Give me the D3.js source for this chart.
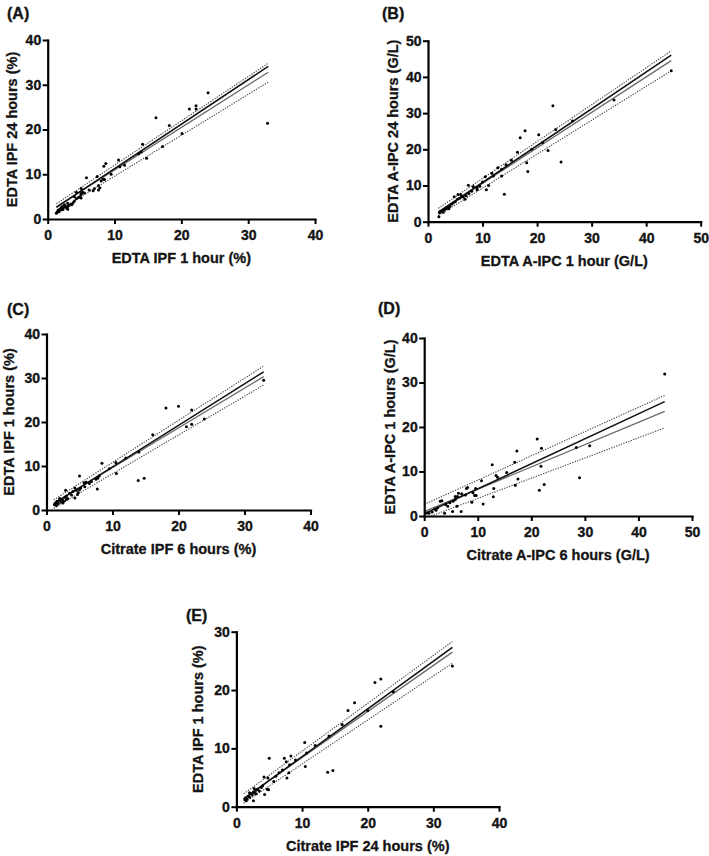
<!DOCTYPE html>
<html>
<head>
<meta charset="utf-8">
<script src="https://cdn.jsdelivr.net/npm/d3@7"></script>
<style>
  html, body { margin: 0; padding: 0; background: #fff; }
  svg { display: block; font-family: "Liberation Sans", Arial, Helvetica, sans-serif; }
</style>
</head>
<body>
<svg id="chart" width="709" height="856"></svg>
<script>
// ---------------- DATA ----------------
// Panel A: EDTA IPF 1 hour (x) vs EDTA IPF 24 hours (y)
const aPoints = [[32.9,21.4],[24.0,28.2],[21.2,24.6],[22.2,25.3],[22.2,24.6],[16.2,22.6],[18.2,20.9],[20.1,19.1],[14.2,16.7],[17.2,16.2],[14.8,13.6],[14.0,15.0],[13.6,14.6],[10.6,13.2],[8.7,12.4],[8.4,11.8],[5.8,9.2],[7.4,9.5],[7.6,7.5],[7.6,6.5],[6.8,6.3],[5.0,6.8],[5.0,5.7],[4.3,6.0],[10.8,11.7],[8.3,8.9],[9.5,10.0],[11.5,12.0],[1.4,1.5],[1.5,1.8],[1.6,2.0],[1.8,2.2],[2.0,2.0],[2.0,2.5],[2.2,2.3],[2.2,2.8],[2.4,2.7],[2.5,3.2],[2.6,3.0],[2.7,2.6],[2.8,2.5],[3.0,2.2],[3.0,2.8],[3.0,3.5],[3.2,3.0],[3.5,3.3],[3.6,3.2],[3.8,3.6],[4.0,4.0],[4.0,5.0],[4.3,4.5],[4.6,4.8],[4.8,5.0],[5.0,4.7],[5.0,5.5],[5.2,6.0],[5.5,5.8],[6.2,6.5],[7.0,6.8],[8.0,8.5],[8.5,8.8],[7.8,7.0],[1.7,1.6],[2.3,2.1],[1.3,1.3]];
// Panel B: EDTA A-IPC 1 hour vs EDTA A-IPC 24 hours
const bPoints = [[44.6,41.7],[34.1,33.6],[22.9,32.0],[26.5,27.8],[23.4,25.5],[17.8,25.1],[16.9,23.2],[20.3,24.0],[22.0,19.7],[24.4,16.5],[18.1,16.3],[18.3,13.9],[16.4,19.2],[15.3,17.0],[14.0,7.6],[12.8,14.9],[13.5,14.5],[13.5,12.6],[11.7,13.4],[10.5,12.4],[10.7,8.8],[11.1,10.0],[7.4,10.1],[8.3,9.7],[14.3,15.7],[4.8,6.9],[5.5,7.5],[6.2,6.9],[2.0,1.4],[2.1,2.5],[2.3,2.8],[2.6,3.0],[3.0,3.3],[3.3,3.6],[3.6,4.0],[4.0,4.2],[4.3,4.8],[4.6,5.2],[5.0,5.5],[5.4,6.2],[5.8,6.5],[6.0,7.5],[6.5,6.8],[7.0,7.2],[7.5,7.8],[8.0,8.4],[9.0,9.4],[9.5,9.8],[10.0,11.0],[12.0,12.6],[19.0,20.0],[21.0,21.9],[3.8,3.6],[2.8,2.6],[6.8,6.2],[9.0,8.8]];
// Panel C: Citrate IPF 6 hours vs EDTA IPF 1 hours
const cPoints = [[32.9,29.5],[18.1,23.2],[20.0,23.6],[22.0,22.7],[23.9,20.7],[22.0,19.5],[21.2,18.9],[16.1,17.1],[14.0,13.2],[13.9,6.7],[14.8,7.2],[10.5,10.8],[10.6,8.3],[8.4,10.6],[5.0,7.7],[7.7,4.8],[7.5,7.0],[8.0,7.8],[7.8,7.3],[5.7,6.2],[4.3,5.0],[4.3,2.7],[2.9,4.5],[4.7,3.5],[5.8,5.3],[1.2,1.2],[1.4,1.6],[1.6,2.0],[1.8,1.5],[2.0,2.2],[2.2,1.8],[2.4,2.4],[2.6,2.0],[2.8,2.9],[3.0,3.2],[3.2,2.6],[3.5,3.8],[3.8,3.4],[4.0,4.2],[4.5,4.5],[5.0,4.6],[5.2,5.0],[6.0,6.3],[6.5,6.0],[9.5,9.4],[12.0,11.8],[1.5,1.0],[2.0,2.6],[2.5,1.6],[3.0,2.4],[4.8,4.0],[6.8,6.5]];
// Panel D: Citrate A-IPC 6 hours vs EDTA A-IPC 1 hours
const dPoints = [[44.9,31.9],[21.1,17.3],[21.9,15.2],[17.3,14.6],[16.9,12.1],[12.7,11.5],[28.4,15.4],[30.9,15.8],[29.0,8.6],[21.8,11.2],[22.4,7.1],[21.5,5.8],[17.0,6.9],[17.5,8.3],[15.4,9.8],[13.4,9.1],[13.7,8.7],[13.0,6.2],[12.9,4.3],[11.0,2.7],[10.7,7.9],[8.9,3.1],[9.7,4.6],[9.6,6.2],[9.4,4.6],[7.9,6.2],[8.1,6.4],[6.4,5.1],[6.2,4.4],[5.8,3.7],[5.4,3.3],[6.9,1.0],[5.3,1.0],[6.1,2.2],[4.4,2.2],[3.8,0.6],[3.0,3.3],[3.3,3.4],[2.2,1.3],[1.5,0.9],[0.9,0.6],[0.5,0.7],[7.7,4.7],[9.1,5.2],[5.8,4.4],[2.0,1.6],[2.5,1.8],[4.0,2.6],[4.8,3.0],[7.0,5.0]];
// Panel E: Citrate IPF 24 hours vs EDTA IPF 1 hours
const ePoints = [[32.9,24.1],[21.1,21.3],[22.0,21.9],[22.0,13.8],[18.0,17.8],[17.0,16.5],[23.9,19.7],[20.0,16.5],[16.1,14.1],[14.1,12.1],[13.9,5.9],[14.7,6.2],[10.4,11.0],[10.5,6.9],[10.7,9.2],[5.0,8.3],[7.3,8.3],[8.3,8.7],[7.6,7.7],[8.1,7.2],[7.0,6.3],[7.7,4.9],[8.0,5.8],[4.2,5.1],[4.8,4.9],[4.3,2.1],[4.7,3.0],[4.9,2.9],[2.6,1.0],[2.7,3.1],[5.7,4.3],[1.3,1.2],[1.4,1.5],[1.6,1.3],[1.8,1.8],[2.0,1.6],[2.2,2.2],[2.4,2.0],[2.6,2.5],[2.8,2.3],[3.0,2.8],[3.2,3.0],[3.5,2.7],[3.8,3.3],[4.0,3.6],[6.0,5.2],[6.5,5.8],[9.0,8.0],[12.0,10.5],[1.5,1.0],[2.0,2.4],[3.0,2.2]];

// Fit lines [x0, y0, x1, y1]: regression (black), second fit (grey), upper / lower confidence (dotted)
const aLines = { fit: [1.3,2.6,33,34.1], alt: [1.3,2.7,33,32.8], upper: [1.3,3.4,33,34.8], lower: [1.3,1.6,33,30.6] };
const bLines = { fit: [1.9,2.6,44.6,46.0], alt: [1.9,2.7,44.6,44.5], upper: [1.9,3.7,44.6,47.2], lower: [1.9,1.7,44.6,41.7] };
const cLines = { fit: [1.1,1.4,32.9,31.4], alt: [1.1,1.6,32.9,30.3], upper: [1.1,2.3,32.9,32.7], lower: [1.1,0.4,32.9,28.4] };
const dLines = { fit: [0,0.5,44.9,25.7], alt: [0,1.0,44.9,23.5], upper: [0,2.6,44.9,27.1], lower: [1.3,0,44.9,19.8] };
const eLines = { fit: [1.1,1.3,32.9,27.3], alt: [1.1,1.4,32.9,26.5], upper: [1.1,2.2,32.9,28.3], lower: [1.1,0.6,32.9,24.6] };

// Tick values
const ticks40 = [0, 10, 20, 30, 40];
const ticks50 = [0, 10, 20, 30, 40, 50];
const ticks30 = [0, 10, 20, 30];

// Labels
const panelTags = ["(A)", "(B)", "(C)", "(D)", "(E)"];
const xTitles = ["EDTA IPF 1 hour (%)", "EDTA A-IPC 1 hour (G/L)", "Citrate IPF 6 hours (%)", "Citrate A-IPC 6 hours (G/L)", "Citrate IPF 24 hours (%)"];
const yTitles = ["EDTA IPF 24 hours (%)", "EDTA A-IPC 24 hours (G/L)", "EDTA IPF 1 hours (%)", "EDTA A-IPC 1 hours (G/L)", "EDTA IPF 1 hours (%)"];

// ---------------- LAYOUT ----------------
const panels = [
  { pts: aPoints, lines: aLines, xt: ticks40, yt: ticks40, box: [47.7, 315, 40, 219],   tag: [7, 19],    yOff: 36 },
  { pts: bPoints, lines: bLines, xt: ticks50, yt: ticks50, box: [428, 700.7, 40.7, 221.7], tag: [382, 19], yOff: 35 },
  { pts: cPoints, lines: cLines, xt: ticks40, yt: ticks40, box: [46.5, 310.5, 334, 510], tag: [7, 315],   yOff: 38 },
  { pts: dPoints, lines: dLines, xt: ticks50, yt: ticks40, box: [424.2, 692, 338, 516],  tag: [378, 314], yOff: 34 },
  { pts: ePoints, lines: eLines, xt: ticks40, yt: ticks30, box: [236.4, 499, 631.7, 806.7], tag: [186, 621], yOff: 39 }
];

const svg = d3.select("#chart");
const textInk = "#141414";

panels.forEach((p, i) => {
  const [L, R, T, B] = p.box;
  const x = d3.scaleLinear().domain([0, d3.max(p.xt)]).range([L, R]);
  const y = d3.scaleLinear().domain([0, d3.max(p.yt)]).range([B, T]);
  const g = svg.append("g");
  const clipId = "clip" + i;
  svg.append("clipPath").attr("id", clipId).append("rect")
    .attr("x", L).attr("y", T - 5).attr("width", R - L + 5).attr("height", B - T + 5);

  const lg = g.append("g").attr("clip-path", `url(#${clipId})`);
  const styles = {
    lower: { stroke: "#444", w: 1.1, dash: "1.3,1.3" },
    upper: { stroke: "#444", w: 1.1, dash: "1.3,1.3" },
    alt:   { stroke: "#6a6a6a", w: 1.3, dash: null },
    fit:   { stroke: "#111", w: 1.6, dash: null }
  };
  ["lower", "upper", "alt", "fit"].forEach(k => {
    const v = p.lines[k];
    const s = styles[k];
    lg.append("line")
      .attr("x1", x(v[0])).attr("y1", y(v[1]))
      .attr("x2", x(v[2])).attr("y2", y(v[3]))
      .attr("stroke", s.stroke).attr("stroke-width", s.w)
      .attr("stroke-dasharray", s.dash);
  });

  g.append("g").selectAll("circle").data(p.pts).join("circle")
    .attr("cx", d => x(d[0])).attr("cy", d => y(d[1]))
    .attr("r", 1.5).attr("fill", "#000");

  const xa = g.append("g").attr("transform", `translate(0,${B})`)
    .call(d3.axisBottom(x).tickValues(p.xt).tickSize(5).tickSizeOuter(0).tickPadding(6).tickFormat(d3.format("d")));
  const ya = g.append("g").attr("transform", `translate(${L},0)`)
    .call(d3.axisLeft(y).tickValues(p.yt).tickSize(5).tickSizeOuter(0).tickPadding(1.5).tickFormat(d3.format("d")));
  [xa, ya].forEach(a => {
    a.select(".domain").attr("stroke", "#000").attr("stroke-width", 2.2).attr("stroke-linecap", "square");
    a.selectAll(".tick line").attr("stroke", "#000").attr("stroke-width", 2);
    a.selectAll(".tick text").attr("fill", textInk).attr("stroke", textInk).attr("stroke-width", 0.35)
      .style("font-size", "14px").style("font-weight", "bold")
      .style("font-family", "'Liberation Sans', Arial, sans-serif");
  });

  svg.append("text").attr("x", p.tag[0]).attr("y", p.tag[1])
    .style("font-size", "16px").style("font-weight", "bold")
    .attr("fill", textInk).attr("stroke", textInk).attr("stroke-width", 0.35).text(panelTags[i]);

  svg.append("text").attr("x", (L + R) / 2).attr("y", B + 44)
    .attr("text-anchor", "middle").style("font-size", "14.5px").style("font-weight", "bold")
    .attr("fill", textInk).attr("stroke", textInk).attr("stroke-width", 0.3)
    .text(xTitles[i]);

  svg.append("text")
    .attr("transform", `translate(${L - p.yOff},${(T + B) / 2}) rotate(-90)`)
    .attr("text-anchor", "middle").attr("dy", "0.36em")
    .style("font-size", "14.5px").style("font-weight", "bold")
    .attr("fill", textInk).attr("stroke", textInk).attr("stroke-width", 0.3)
    .text(yTitles[i]);
});
</script>
</body>
</html>
